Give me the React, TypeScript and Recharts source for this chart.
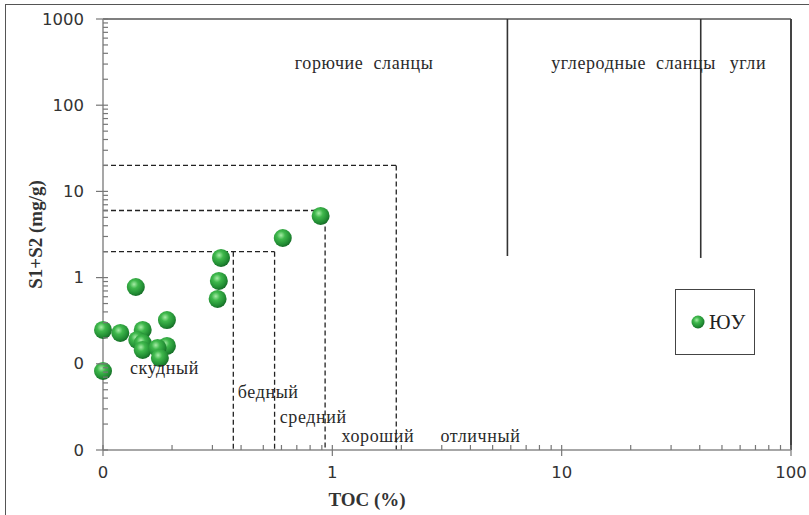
import React from "react";
import { ScatterChart, Scatter, XAxis, YAxis, ReferenceLine, ReferenceDot } from "recharts";

// samples (ЮУ)
const tocValues = [0.1, 0.119, 0.149, 0.141, 0.149, 0.149, 0.19, 0.19, 0.173, 0.177, 0.1, 0.139, 0.327, 0.32, 0.316, 0.608, 0.889];
const s1s2Values = [0.247, 0.228, 0.247, 0.189, 0.174, 0.145, 0.322, 0.161, 0.153, 0.117, 0.0825, 0.778, 1.69, 0.914, 0.565, 2.88, 5.19];

const xMajorTicks = [0.1, 1, 10, 100];
const yMajorTicks = [0.01, 0.1, 1, 10, 100, 1000];
const minorSteps = [2, 3, 4, 5, 6, 7, 8, 9];

// class boundaries (TOC, S1+S2)
const dashedSegments = [
  [[0.1, 20], [1.9, 20]],
  [[1.9, 20], [1.9, 0.01]],
  [[0.1, 6], [0.93, 6]],
  [[0.93, 6], [0.93, 0.01]],
  [[0.1, 2], [0.56, 2]],
  [[0.56, 2], [0.56, 0.01]],
  [[0.37, 2], [0.37, 0.01]],
];
const solidSegments = [
  [[5.8, 1000], [5.8, 1.78]],
  [[40.4, 1000], [40.4, 1.69]],
];

const zoneLabels = [
  { text: "горючие сланцы", x: 0.686, y: 309 },
  { text: "углеродные сланцы", x: 9.0, y: 309 },
  { text: "угли", x: 54, y: 309 },
  { text: "скудный", x: 0.131, y: 0.0893 },
  { text: "бедный", x: 0.387, y: 0.0471 },
  { text: "средний", x: 0.59, y: 0.0241 },
  { text: "хороший", x: 1.097, y: 0.0145 },
  { text: "отличный", x: 2.96, y: 0.0145 },
];

const samples = tocValues.map((toc, i) => ({ toc, s1s2: s1s2Values[i] }));
const withMinor = (majors: number[]) => [
  ...majors,
  ...majors.slice(0, -1).flatMap((d) => minorSteps.map((s) => d * s)),
];
const xTicks = withMinor(xMajorTicks);
const yTicks = withMinor(yMajorTicks);

const fmt = (v: number) => (v < 1 ? "0" : String(v));
const serif = "'Liberation Serif', 'DejaVu Serif', serif";
const sans = "'DejaVu Sans', Verdana, sans-serif";

const XTick = (props: any) => {
  const { x, y, payload } = props;
  const major = xMajorTicks.includes(payload.value);
  return (
    <g>
      <line x1={x} x2={x} y1={y - 5} y2={major ? y + 6 : y} stroke="#777" strokeWidth={1.2} />
      {major && (
        <text x={x} y={y + 28} textAnchor="middle" fontFamily={sans} fontSize={16.5} fill="#333">
          {fmt(payload.value)}
        </text>
      )}
    </g>
  );
};

const YTick = (props: any) => {
  const { x, y, payload } = props;
  const major = yMajorTicks.includes(payload.value);
  return (
    <g>
      <line x1={major ? x - 7 : x} x2={x + 5} y1={y} y2={y} stroke="#777" strokeWidth={1.2} />
      {major && (
        <text x={x - 19} y={y} textAnchor="end" dominantBaseline="central" fontFamily={sans} fontSize={16.5} fill="#333">
          {fmt(payload.value)}
        </text>
      )}
    </g>
  );
};

const Ball = (props: any) => <circle cx={props.cx} cy={props.cy} r={9} fill="url(#ball)" />;

const App = () => {
  return (
    <div style={{ position: "absolute", left: 0, top: 0, width: 809, height: 515, overflow: "hidden", background: "#fff" }}>
      <svg width={0} height={0} style={{ position: "absolute" }}>
        <defs>
          <radialGradient id="ball" cx="40%" cy="35%" r="65%">
            <stop offset="0%" stopColor="#a6eca6" />
            <stop offset="35%" stopColor="#3fb84c" />
            <stop offset="80%" stopColor="#218c33" />
            <stop offset="100%" stopColor="#176e28" />
          </radialGradient>
        </defs>
      </svg>
      <div style={{ position: "absolute", left: 5, top: 4, width: 830, height: 540, border: "1.5px solid #555" }} />
      <div style={{ position: "absolute", left: 0, top: 0 }}>
        <ScatterChart width={809} height={515} margin={{ top: 19, right: 18, bottom: 0, left: 0 }}>
          <XAxis
            type="number"
            dataKey="toc"
            scale="log"
            domain={[0.1, 100]}
            ticks={xTicks}
            interval={0}
            tick={<XTick />}
            tickLine={false}
            tickSize={0}
            tickMargin={0}
            height={65}
            axisLine={{ stroke: "#8a8a8a", strokeWidth: 1.5 }}
            label={(p: any) => (
              <text x={367} y={p.viewBox.y + 56} textAnchor="middle" fontFamily={serif} fontWeight="bold" fontSize={19} fill="#333">
                TOC (%)
              </text>
            )}
          />
          <YAxis
            type="number"
            dataKey="s1s2"
            scale="log"
            domain={[0.01, 1000]}
            ticks={yTicks}
            interval={0}
            tick={<YTick />}
            tickLine={false}
            tickSize={0}
            tickMargin={0}
            width={103}
            axisLine={{ stroke: "#8a8a8a", strokeWidth: 1.5 }}
            label={(p: any) => {
              const cy = p.viewBox.y + p.viewBox.height / 2;
              return (
                <text x={35} y={cy} transform={`rotate(-90 35 ${cy})`} textAnchor="middle" dominantBaseline="central" fontFamily={serif} fontWeight="bold" fontSize={19} fill="#333">
                  S1+S2 (mg/g)
                </text>
              );
            }}
          />
          <Scatter data={samples} shape={<Ball />} isAnimationActive={false} />
          <ReferenceLine y={1000} stroke="#555" strokeWidth={1.3} />
          <ReferenceLine x={100} stroke="#444" strokeWidth={2} />
          {zoneLabels.map((l) => (
            <ReferenceDot
              key={l.text}
              x={l.x}
              y={l.y}
              r={1}
              shape={(p: any) => (
                <text x={p.cx} y={p.cy} dominantBaseline="central" fontFamily={serif} fontSize={18} letterSpacing={0.6} wordSpacing={5} fill="#2a2a2a">
                  {l.text}
                </text>
              )}
            />
          ))}
          {dashedSegments.map((s, i) => (
            <ReferenceLine
              key={`d${i}`}
              segment={[{ x: s[0][0], y: s[0][1] }, { x: s[1][0], y: s[1][1] }]}
              stroke="#222"
              strokeWidth={1.3}
              strokeDasharray="5 3"
            />
          ))}
          {solidSegments.map((s, i) => (
            <ReferenceLine
              key={`s${i}`}
              segment={[{ x: s[0][0], y: s[0][1] }, { x: s[1][0], y: s[1][1] }]}
              stroke="#333"
              strokeWidth={1.6}
            />
          ))}
        </ScatterChart>
      </div>
      <div style={{ position: "absolute", left: 675, top: 289, width: 78, height: 64, border: "1.5px solid #444", display: "flex", alignItems: "center" }}>
        <svg width={32} height={20} style={{ marginLeft: 8 }}>
          <circle cx={14} cy={10} r={6.5} fill="url(#ball)" />
        </svg>
        <span style={{ fontFamily: serif, fontSize: 21, color: "#222", marginLeft: -7 }}>ЮУ</span>
      </div>
    </div>
  );
};

export default App;
